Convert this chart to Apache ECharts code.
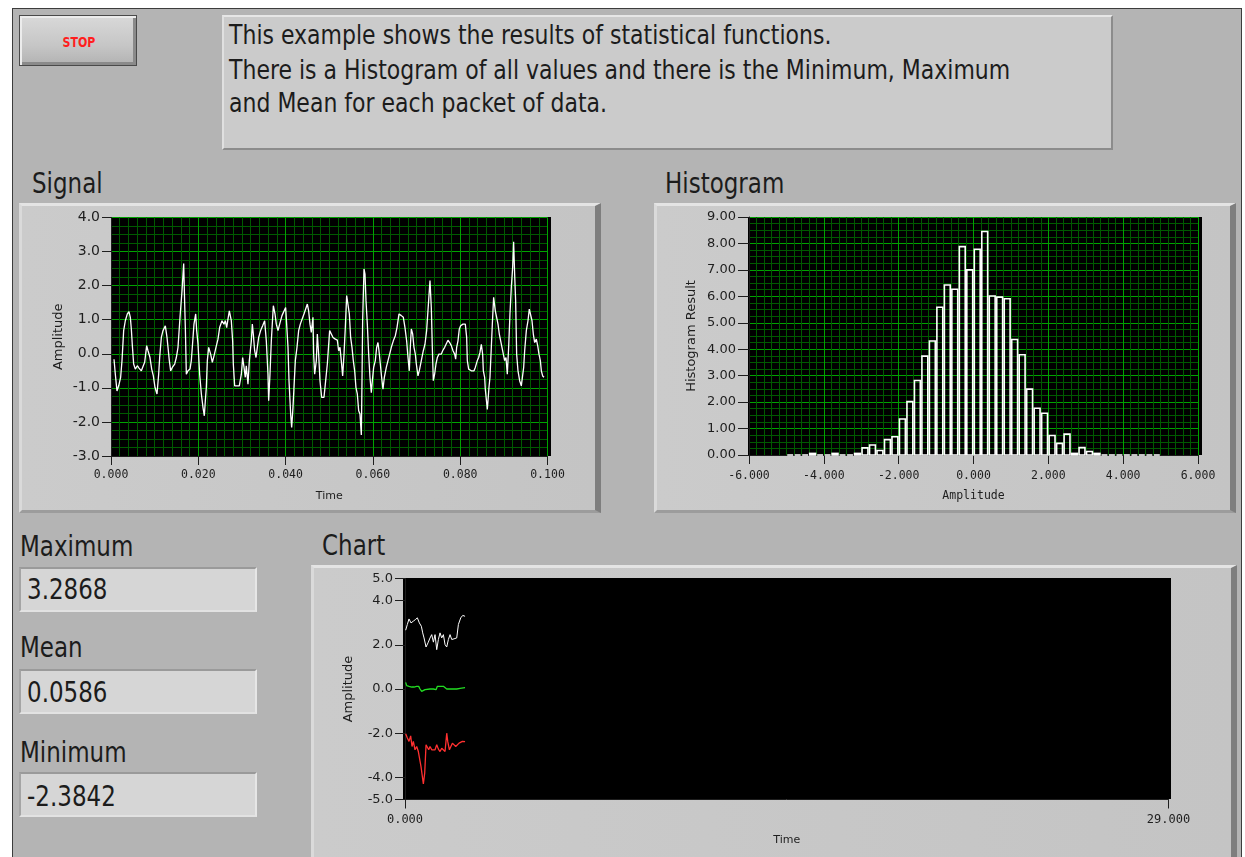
<!DOCTYPE html>
<html><head><meta charset="utf-8">
<script src="https://cdn.jsdelivr.net/npm/echarts@6/dist/echarts.min.js"></script>
<style>
html,body{margin:0;padding:0;width:1245px;height:857px;overflow:hidden;background:#fff;font-family:"DejaVu Sans",sans-serif;}
#panel{position:absolute;left:12px;top:8px;width:1230px;height:870px;background:#b4b4b4;border:1px solid #3c3c3c;box-sizing:border-box;}
.frame{position:absolute;box-sizing:border-box;background:linear-gradient(to right,#cbcbcb 0%,#c4c4c4 100%);border-top:3px solid #e4e4e4;border-left:3px solid #dadada;border-right:6px solid #7e7e7e;border-bottom:3px solid #9c9c9c;}
.plotbg{position:absolute;background:#000;}
.lbl{position:absolute;font-size:23px;color:#1c1c1c;transform-origin:0 0;transform:scaleY(1.2);white-space:nowrap;line-height:1;}
.txt{position:absolute;font-size:22px;color:#1c1c1c;transform-origin:0 0;transform:scaleY(1.2);white-space:nowrap;line-height:1;}
.ind{position:absolute;left:19px;width:238px;height:45px;box-sizing:border-box;background:#d6d6d6;border-top:2px solid #9a9a9a;border-left:2px solid #a4a4a4;border-right:2px solid #e6e6e6;border-bottom:2px solid #e2e2e2;}
#stop{position:absolute;left:19px;top:15px;width:118px;height:51px;box-sizing:border-box;border:1px solid #4a4a4a;background:linear-gradient(to bottom,#d9d9d9 0%,#c6c6c6 60%,#b2b2b2 100%);box-shadow:inset 2px 2px 0 #ececec,inset -3px -3px 0 #8a8a8a;}
#stoptxt{position:absolute;left:0;top:0;width:118px;text-align:center;font-weight:bold;font-size:11px;color:#ff1e1e;transform-origin:50% 0;transform:scaleY(1.2);line-height:1;top:20px;}
#desc{position:absolute;left:222px;top:15px;width:891px;height:135px;box-sizing:border-box;background:#cbcbcb;border-top:2px solid #e6e6e6;border-left:2px solid #e0e0e0;border-right:2px solid #8c8c8c;border-bottom:2px solid #8c8c8c;}
#chart{position:absolute;left:0;top:0;width:1245px;height:857px;z-index:5;}
</style>
</head><body>
<div id="panel"></div>
<div id="stop"><div id="stoptxt">STOP</div></div>
<div id="desc"></div>
<div class="txt" style="left:229px;top:22px;">This example shows the results of statistical functions.</div>
<div class="txt" style="left:229px;top:56.5px;">There is a Histogram of all values and there is the Minimum, Maximum</div>
<div class="txt" style="left:229px;top:90px;">and Mean for each packet of data.</div>

<div class="lbl" style="left:32px;top:170px;">Signal</div>
<div class="lbl" style="left:665px;top:170px;">Histogram</div>
<div class="frame" style="left:19px;top:203px;width:582px;height:310px;"></div>
<div class="frame" style="left:654px;top:203px;width:582px;height:310px;"></div>
<div class="plotbg" style="left:111px;top:217px;width:440px;height:239px;"></div>
<div class="plotbg" style="left:748px;top:217px;width:454px;height:238px;"></div>

<div class="lbl" style="left:20px;top:533px;">Maximum</div>
<div class="ind" style="top:567px;"></div>
<div class="lbl" style="left:27px;top:576px;">3.2868</div>
<div class="lbl" style="left:20px;top:634px;">Mean</div>
<div class="ind" style="top:669px;"></div>
<div class="lbl" style="left:27px;top:679px;">0.0586</div>
<div class="lbl" style="left:20px;top:739px;">Minimum</div>
<div class="ind" style="top:772px;"></div>
<div class="lbl" style="left:27px;top:783px;">-2.3842</div>

<div class="lbl" style="left:322px;top:532px;">Chart</div>
<div class="frame" style="left:311px;top:565px;width:926px;height:300px;"></div>
<div class="plotbg" style="left:403px;top:578px;width:768px;height:221px;"></div>

<div id="chart"></div>
<script>
// ---------------- data ----------------
// Signal: time in milliseconds, amplitude values
const signalTimeMs = [0.69,0.99,1.37,1.76,2.21,2.52,2.90,3.28,3.74,4.12,4.43,4.66,4.89,5.19,5.57,6.03,6.41,6.95,7.33,7.71,8.17,8.48,8.93,9.32,9.70,10.08,10.54,10.92,11.15,11.53,11.91,12.45,12.83,13.06,13.36,13.67,14.05,14.59,14.97,15.35,15.81,16.27,16.65,16.88,17.03,17.26,17.64,18.10,18.40,18.63,19.01,19.40,19.63,19.93,20.31,20.70,21.08,21.38,21.61,21.84,22.07,22.37,22.83,23.21,23.60,24.05,24.51,24.89,25.43,25.88,26.19,26.50,26.80,27.11,27.41,27.56,27.87,28.02,28.33,28.86,29.40,29.86,30.16,30.47,30.77,31.00,31.38,31.69,31.92,32.15,32.38,32.60,32.91,33.22,33.52,33.83,34.28,34.74,35.20,35.58,35.96,36.12,36.42,36.73,37.19,37.57,37.87,38.26,38.64,39.17,40.01,40.24,40.55,40.78,41.16,41.39,41.69,41.92,42.23,42.61,42.99,43.37,43.75,44.21,44.98,45.28,45.59,45.89,46.27,46.43,46.66,47.04,47.27,47.57,47.88,48.26,48.79,49.10,49.56,50.09,50.47,50.86,51.39,51.85,52.15,52.46,52.76,53.07,53.38,53.68,53.99,54.44,54.60,54.90,55.21,55.51,55.82,56.12,56.43,56.74,57.04,57.35,57.50,57.65,57.96,58.19,58.42,58.72,59.03,59.33,59.64,59.87,60.17,60.55,60.86,61.16,61.39,61.70,62.00,62.31,62.62,63.07,63.46,63.84,64.22,64.68,65.14,65.52,65.98,66.51,66.97,67.35,67.73,68.04,68.34,68.57,68.80,69.11,69.41,69.72,69.95,70.33,70.71,71.09,71.55,71.93,72.31,72.77,73.08,73.38,73.61,73.84,74.14,74.45,74.76,75.14,75.67,75.98,76.44,77.20,77.58,77.96,78.35,78.73,78.96,79.19,79.49,79.80,80.10,80.64,81.17,81.48,81.63,81.94,82.24,82.55,82.85,83.16,83.46,83.92,84.23,84.53,84.84,85.14,85.30,85.60,85.75,85.98,86.21,86.37,86.59,86.82,87.13,87.36,87.66,88.04,88.35,88.66,88.96,89.27,89.57,89.88,90.18,90.49,90.79,91.10,91.40,91.71,92.02,92.24,92.47,92.70,92.93,93.24,93.62,94.00,94.23,94.54,94.77,95.15,95.53,95.83,96.14,96.45,96.75,97.06,97.44,97.75,98.05,98.36,98.59,98.89,99.20];
const signalValues = [-0.16,-0.60,-1.09,-0.94,-0.69,-0.20,0.68,0.97,1.17,1.24,1.07,0.72,0.24,-0.30,-0.45,-0.35,-0.42,-0.50,-0.55,-0.25,0.24,0.09,-0.11,-0.45,-0.65,-0.99,-1.18,-0.60,-0.11,0.48,0.68,0.82,0.48,0.19,-0.20,-0.50,-0.40,-0.30,-0.11,0.19,1.07,1.85,2.65,1.46,0.77,-0.60,-0.50,-0.45,-0.20,0.19,0.87,1.17,0.68,0.29,-0.60,-1.18,-1.58,-1.82,-1.38,-0.99,-0.20,0.19,-0.01,-0.25,-0.06,0.19,0.43,0.77,0.97,0.87,0.97,0.77,1.02,1.26,1.07,0.97,0.38,-0.30,-0.94,-0.94,-0.94,-0.60,-0.11,-0.40,-0.69,-0.35,-0.89,-0.20,0.09,0.38,0.87,0.58,0.09,-0.11,0.19,0.48,0.68,0.82,0.97,0.38,-0.60,-1.38,-0.60,0.38,1.41,1.17,0.87,0.68,0.87,1.12,1.36,0.87,0.19,-0.79,-1.77,-2.16,-1.58,-0.99,-0.20,0.19,0.68,0.87,0.92,1.17,1.46,1.26,0.87,0.63,1.07,-0.01,-0.60,-0.20,0.58,-0.01,-0.79,-1.28,-1.28,-0.89,-0.30,0.68,0.73,0.48,0.43,0.40,0.09,0.19,-0.20,-0.65,-0.01,0.77,1.71,1.66,1.17,0.48,0.19,-0.20,-0.50,-0.99,-1.18,-1.67,-1.77,-2.38,-0.79,0.97,2.49,2.34,1.56,0.87,-0.01,-0.69,-1.14,-0.79,-0.40,-0.20,0.19,0.33,0.09,-0.30,-0.69,-1.04,-0.69,-0.40,-0.20,-0.01,0.19,0.38,0.53,0.77,1.17,1.12,1.07,0.77,0.38,-0.11,-0.50,0.19,0.73,0.58,0.19,-0.01,-0.30,-0.65,-0.45,-0.20,0.09,0.28,0.68,1.56,2.15,1.36,0.19,-0.79,-0.60,-0.30,-0.11,-0.01,-0.01,0.09,0.19,0.40,0.33,0.24,0.09,-0.01,-0.16,0.19,0.38,0.73,0.82,0.87,0.87,0.48,-0.20,-0.45,-0.50,-0.50,-0.55,-0.50,-0.40,-0.20,-0.11,0.04,0.28,-0.01,-0.50,-0.69,-1.04,-1.33,-1.63,-1.38,-0.99,-0.69,0.19,0.87,1.66,1.26,1.07,0.87,0.58,0.38,0.19,-0.01,-0.20,-0.11,-0.60,0.19,1.17,1.95,2.54,3.29,2.34,1.56,-0.01,-0.50,-0.79,-0.94,-0.89,-0.40,0.09,0.68,0.97,1.31,1.26,0.97,0.58,0.33,0.43,0.24,-0.01,-0.20,-0.50,-0.65,-0.69];

// Histogram: bin start amplitude and bin height
const histBinWidth = 0.2;
const histBinStart = [-5.0,-4.8,-4.6,-4.4,-4.2,-4.0,-3.8,-3.6,-3.4,-3.2,-3.0,-2.8,-2.6,-2.4,-2.2,-2.0,-1.8,-1.6,-1.4,-1.2,-1.0,-0.8,-0.6,-0.4,-0.2,0.0,0.2,0.4,0.6,0.8,1.0,1.2,1.4,1.6,1.8,2.0,2.2,2.4,2.6,2.8,3.0,3.2,3.4,3.6,3.8,4.0,4.2,4.4,4.6,4.8];
const histCounts = [0,0,0,0.06,0,0,0.06,0,0,0.06,0.27,0.38,0.17,0.58,0.69,1.36,2.02,2.82,3.74,4.31,5.59,6.43,6.27,7.88,7.00,7.78,8.45,6.01,5.97,5.91,4.37,3.79,2.49,1.77,1.58,0.74,0.44,0.79,0.06,0.28,0.13,0.06,0,0,0,0,0,0,0,0];

// Chart: per-packet maximum / mean / minimum
const maxTime = [0.025,0.089,0.152,0.228,0.317,0.393,0.469,0.545,0.621,0.672,0.723,0.799,0.875,0.951,1.015,1.078,1.141,1.205,1.268,1.331,1.395,1.458,1.521,1.585,1.648,1.711,1.775,1.863,1.965,2.028,2.117,2.193,2.281];
const maxValues = [2.66,2.92,3.17,2.99,3.07,3.14,3.22,2.99,2.84,2.54,2.31,1.90,2.09,2.31,2.46,2.12,2.46,1.78,2.24,2.54,2.31,2.46,2.01,1.90,2.24,2.46,2.24,2.27,2.31,2.92,3.22,3.33,3.29];
const meanTime = [0.025,0.063,0.152,0.254,0.342,0.444,0.520,0.570,0.634,0.697,0.760,0.824,0.951,1.078,1.179,1.230,1.357,1.458,1.521,1.585,1.711,1.838,1.965,2.091,2.155,2.281];
const meanValues = [0.30,0.15,0.12,0.09,0.09,0.12,0.12,0.00,-0.11,-0.15,-0.03,0.00,0.00,0.00,-0.03,0.12,0.12,0.12,0.05,0.00,0.00,0.00,0.00,0.03,0.12,0.06];
const minTime = [0.025,0.089,0.152,0.215,0.266,0.317,0.380,0.444,0.507,0.570,0.608,0.659,0.697,0.748,0.799,0.849,0.900,0.951,1.015,1.078,1.141,1.205,1.268,1.331,1.395,1.458,1.521,1.585,1.623,1.686,1.737,1.800,1.863,1.927,1.990,2.053,2.117,2.180,2.243,2.281];
const minValues = [-2.03,-2.22,-2.37,-2.12,-2.60,-2.37,-2.75,-2.60,-2.83,-2.90,-3.51,-3.96,-4.29,-3.81,-2.52,-2.60,-2.75,-2.60,-2.75,-2.68,-2.75,-2.52,-2.72,-2.83,-2.68,-2.60,-2.83,-2.00,-2.37,-2.75,-2.83,-2.45,-2.37,-2.60,-2.52,-2.45,-2.52,-2.37,-2.30,-2.38];

// Axis tick labels
const chartYTicks = [-5, -4, -2, 0, 2, 4, 5];
const chartXTicks = [0, 29];

// ---------------- chart ----------------
const pair = (xs, ys, k) => xs.map((x, i) => [x * (k || 1), ys[i]]);
const AX = '#1e1e1e';
const MAJ = '#00a200';
const MIN = '#005a00';
const sans = '"DejaVu Sans", sans-serif';
const mono = '"DejaVu Sans Mono", monospace';

const chart = echarts.init(document.getElementById('chart'), null, {renderer: 'canvas'});
chart.setOption({
  animation: false,
  backgroundColor: 'transparent',
  grid: [
    {left: 111, top: 217.5, width: 436.5, height: 238.5},
    {left: 749, top: 217, width: 449, height: 238},
    {left: 405, top: 578.5, width: 763.5, height: 221}
  ],
  xAxis: [
    {gridIndex: 0, type: 'value', min: 0, max: 0.1, interval: 0.02,
     name: 'Time', nameLocation: 'middle', nameGap: 35,
     nameTextStyle: {fontFamily: sans, fontSize: 11, color: AX},
     axisLine: {show: true, onZero: false, lineStyle: {color: AX, width: 1}},
     axisTick: {show: true, length: 9, lineStyle: {color: AX}},
     axisLabel: {margin: 13, fontFamily: mono, fontSize: 11.5, color: AX, formatter: v => v.toFixed(3)},
     splitLine: {show: true, lineStyle: {color: MAJ, width: 1}},
     minorTick: {show: false, splitNumber: 10},
     minorSplitLine: {show: true, lineStyle: {color: MIN, width: 1}}},
    {gridIndex: 1, type: 'value', min: -6, max: 6, interval: 2,
     name: 'Amplitude', nameLocation: 'middle', nameGap: 35,
     nameTextStyle: {fontFamily: mono, fontSize: 11.5, color: AX},
     axisLine: {show: true, onZero: false, lineStyle: {color: AX, width: 1}},
     axisTick: {show: true, length: 9, lineStyle: {color: AX}},
     axisLabel: {margin: 15, fontFamily: mono, fontSize: 11.5, color: AX, formatter: v => v.toFixed(3)},
     splitLine: {show: true, lineStyle: {color: MAJ, width: 1}},
     minorTick: {show: false, splitNumber: 10},
     minorSplitLine: {show: true, lineStyle: {color: MIN, width: 1}}},
    {gridIndex: 2, type: 'value', min: 0, max: 29,
     name: 'Time', nameLocation: 'middle', nameGap: 35,
     nameTextStyle: {fontFamily: sans, fontSize: 11, color: AX},
     axisLine: {show: true, onZero: false, lineStyle: {color: AX, width: 1}},
     axisTick: {show: true, length: 9, lineStyle: {color: AX}, customValues: chartXTicks},
     axisLabel: {margin: 14, fontFamily: mono, fontSize: 12, color: AX, customValues: chartXTicks, formatter: v => v.toFixed(3)},
     splitLine: {show: false}}
  ],
  yAxis: [
    {gridIndex: 0, type: 'value', min: -3, max: 4, interval: 1,
     name: 'Amplitude', nameLocation: 'middle', nameGap: 46, nameRotate: 90,
     nameTextStyle: {fontFamily: sans, fontSize: 13, color: AX},
     axisLine: {show: true, onZero: false, lineStyle: {color: AX, width: 1}},
     axisTick: {show: true, length: 9, lineStyle: {color: AX}},
     axisLabel: {margin: 11, fontFamily: sans, fontSize: 14, color: AX, formatter: v => v.toFixed(1)},
     splitLine: {show: true, lineStyle: {color: MAJ, width: 1}},
     minorTick: {show: false, splitNumber: 4},
     minorSplitLine: {show: true, lineStyle: {color: MIN, width: 1}}},
    {gridIndex: 1, type: 'value', min: 0, max: 9, interval: 1,
     name: 'Histogram Result', nameLocation: 'middle', nameGap: 51, nameRotate: 90,
     nameTextStyle: {fontFamily: sans, fontSize: 13, color: AX},
     axisLine: {show: true, onZero: false, lineStyle: {color: AX, width: 1}},
     axisTick: {show: true, length: 11, lineStyle: {color: AX}},
     axisLabel: {margin: 13, fontFamily: sans, fontSize: 13, color: AX, formatter: v => v.toFixed(2)},
     splitLine: {show: true, lineStyle: {color: MAJ, width: 1}},
     minorTick: {show: false, splitNumber: 4},
     minorSplitLine: {show: true, lineStyle: {color: MIN, width: 1}}},
    {gridIndex: 2, type: 'value', min: -5, max: 5,
     name: 'Amplitude', nameLocation: 'middle', nameGap: 50, nameRotate: 90,
     nameTextStyle: {fontFamily: sans, fontSize: 13, color: AX},
     axisLine: {show: true, onZero: false, lineStyle: {color: AX, width: 1}},
     axisTick: {show: true, length: 10, lineStyle: {color: AX}, customValues: chartYTicks},
     axisLabel: {margin: 12, fontFamily: sans, fontSize: 13, color: AX, customValues: chartYTicks, formatter: v => v.toFixed(1)},
     splitLine: {show: false}}
  ],
  series: [
    {type: 'line', xAxisIndex: 0, yAxisIndex: 0, data: pair(signalTimeMs, signalValues, 0.001),
     showSymbol: false, symbol: 'none', lineStyle: {color: '#ffffff', width: 1.3}, silent: true},
    {type: 'custom', xAxisIndex: 1, yAxisIndex: 1, encode: {x: 0, y: 1}, silent: true,
     data: pair(histBinStart, histCounts),
     renderItem: function (params, api) {
       const x0 = api.value(0), h = api.value(1);
       const p1 = api.coord([x0, h]);
       const p2 = api.coord([x0 + histBinWidth, 0]);
       return {type: 'rect',
         shape: {x: p1[0] + 0.8, y: p1[1], width: p2[0] - p1[0] - 1.6, height: p2[1] - p1[1]},
         style: {fill: 'none', stroke: '#ffffff', lineWidth: 1.6}};
     }},
    {type: 'line', xAxisIndex: 2, yAxisIndex: 2, data: pair(maxTime, maxValues),
     showSymbol: false, symbol: 'none', lineStyle: {color: '#ffffff', width: 1}, silent: true},
    {type: 'line', xAxisIndex: 2, yAxisIndex: 2, data: pair(meanTime, meanValues),
     showSymbol: false, symbol: 'none', lineStyle: {color: '#22dd22', width: 1.3}, silent: true},
    {type: 'line', xAxisIndex: 2, yAxisIndex: 2, data: pair(minTime, minValues),
     showSymbol: false, symbol: 'none', lineStyle: {color: '#ff3030', width: 1.3}, silent: true}
  ]
});
</script>
</body></html>
